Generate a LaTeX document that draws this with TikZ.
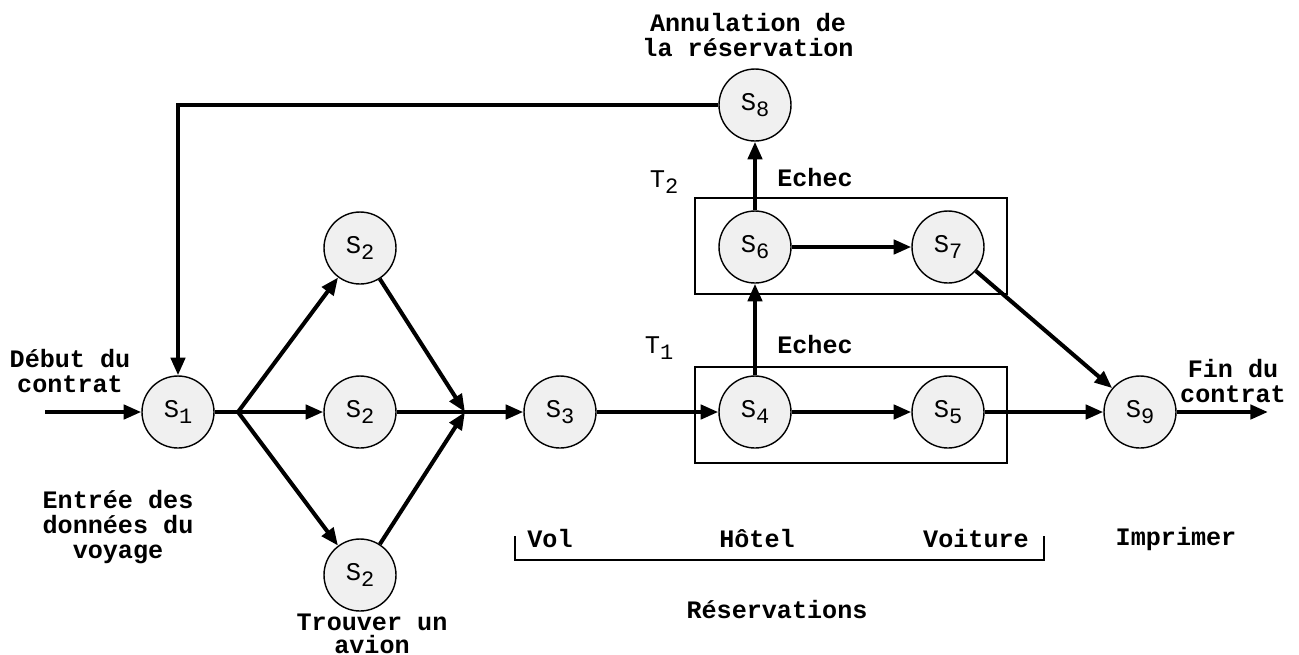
\documentclass[tikz,border=0pt]{standalone}
\usepackage{fontspec}
\setmonofont{Liberation Mono}
\usepackage{tikz}
\usetikzlibrary{calc,arrows.meta}
\definecolor{fond}{HTML}{F0F0F0}
\newcommand\lbl{\ttfamily\fontsize{14.5}{16}\selectfont}
\newcommand\ttl{\ttfamily\bfseries\fontsize{14.3}{14.2}\selectfont}
\newcommand\idx[2]{#1\raisebox{-0.45ex}{\fontsize{12.5}{12}\selectfont #2}}
\def\etat{\node[circle,draw=black,line width=0.8pt,fill=fond,minimum size=1.44cm,inner sep=0pt,font=\lbl]}
\def\fleche{\draw[line width=2.3pt,-{Triangle[length=10pt,width=8pt]}]}
\def\trait{\draw[line width=2.3pt]}
\def\titre{\node[font=\ttl,align=center,inner sep=0pt]}

\begin{document}
\begin{tikzpicture}[x=0.02cm,y=-0.02cm]
\useasboundingbox (0,0) rectangle (1299,654);

% etats
\etat (s1) at (178,412) {\idx{S}{1}};
\etat (s2a) at (360,248) {\idx{S}{2}};
\etat (s2b) at (360,412) {\idx{S}{2}};
\etat (s2c) at (360,575) {\idx{S}{2}};
\etat (s3) at (560,412) {\idx{S}{3}};
\etat (s4) at (755,412) {\idx{S}{4}};
\etat (s5) at (948,412) {\idx{S}{5}};
\etat (s6) at (755,247) {\idx{S}{6}};
\etat (s7) at (948,247) {\idx{S}{7}};
\etat (s8) at (755,105) {\idx{S}{8}};
\etat (s9) at (1140,412) {\idx{S}{9}};

\coordinate (entree) at (45,412);
\coordinate (sortie) at (1268,412);
\coordinate (fourche) at ($ (s1) + (60,0) $);
\coordinate (jonction) at ($ (s2b) + (105,0) $);

% transactions T1 et T2
\draw[line width=0.6pt] (695,367) rectangle (1007,463);
\draw[line width=0.6pt] (695,198) rectangle (1007,294);
\node[font=\lbl] (t1) at (659,348) {\idx{T}{1}};
\node[font=\lbl] (t2) at (664,182) {\idx{T}{2}};

% trouver un avion
\fleche (entree) -- (s1);
\trait (s1) -- (fourche);
\fleche (fourche) -- (s2a);
\fleche (fourche) -- (s2b);
\fleche (fourche) -- (s2c);
\fleche (s2a) -- (jonction);
\trait (s2b) -- (jonction);
\fleche (s2c) -- (jonction);
\fleche (jonction) -- (s3);

% reservations
\fleche (s3) -- (s4);
\fleche (s4) -- (s5);
\fleche (s5) -- (s9);
\fleche (s4) -- (s6);
\fleche (s6) -- (s7);
\fleche (s6) -- (s8);
\fleche (s7) -- (s9);
\fleche (s9) -- (sortie);
\fleche (s8) -| (s1);

% textes
\titre (annul) at (748,35) {Annulation de\\la réservation};
\titre (debut) at (70,371) {Début du\\contrat};
\titre (fin) at (1233,381) {Fin du\\contrat};
\titre (donnees) at (118,527) {Entrée des\\données du\\voyage};
\titre[anchor=north] (avion) at ($ (s2c.south) + (12,2) $) {Trouver un\\[-1pt]avion};
\titre (echec1) at (815,345) {Echec};
\titre (echec2) at (815,178) {Echec};

% accolade des reservations
\draw[line width=0.6pt] (515,536) -- (515,560) -- (1044,560) -- (1044,536);
\titre (vol) at (550,539) {Vol};
\titre (hotel) at (757,539) {Hôtel};
\titre (voiture) at (976,539) {Voiture};
\titre (imprimer) at (1176,539) {Imprimer};
\titre (resa) at (777,610) {Réservations};
\end{tikzpicture}
\end{document}
